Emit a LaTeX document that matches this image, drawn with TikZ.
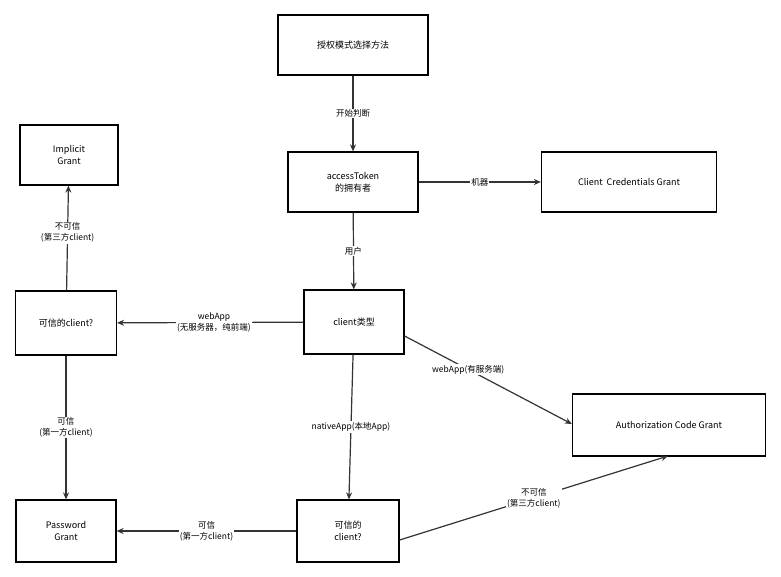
\documentclass[tikz,border=0pt]{standalone}
\usepackage{fontspec}
\setmainfont{Noto Sans CJK SC}
\usetikzlibrary{arrows.meta}
\definecolor{linegray}{HTML}{333333}

\begin{document}
\begin{tikzpicture}[x=1pt, y=-1pt,
    box/.style={draw=black, line width=1.2pt, fill=white, align=center,
      font=\fontsize{9}{12}\selectfont, inner sep=2pt},
    flow/.style={draw=linegray, line width=1.2pt, -{Stealth[length=7pt, width=6pt]}},
    lbl/.style={fill=white, align=center, font=\fontsize{8.5}{11}\selectfont, inner sep=1pt}]

      \useasboundingbox (0,0) rectangle (781,577);

      %% boxes
      \node[box, minimum width=150pt, minimum height=60pt] (choose) at (353,45) {授权模式选择方法};
      \node[box, minimum width=130pt, minimum height=60pt] (owner) at (353,182) {accessToken\\的拥有者};
      \node[box, minimum width=175pt, minimum height=60pt] (cred) at (629,182) {Client\ \ Credentials Grant};
      \node[box, minimum width=98pt, minimum height=60pt] (implicit) at (69,155) {Implicit\\Grant};
      \node[box, minimum width=101pt, minimum height=64pt] (trustweb) at (66,323) {可信的client?};
      \node[box, minimum width=100pt, minimum height=64pt] (ctype) at (354,322) {client类型};
      \node[box, minimum width=193pt, minimum height=62pt] (authcode) at (669,425) {Authorization Code Grant};
      \node[box, minimum width=100pt, minimum height=62pt] (password) at (66,531) {Password\\Grant};
      \node[box, minimum width=102pt, minimum height=62pt] (trustnative) at (348,531) {可信的\\client?};

      %% connectors
      \draw[flow] (choose) -- node[lbl] {开始判断} (owner);
      \draw[flow] (owner) -- node[lbl] {机器} (cred);
      \draw[flow] (owner) -- node[lbl] {用户} (ctype);
      \draw[flow] (ctype) -- node[lbl, pos=0.48] {webApp\\(无服务器，纯前端)} (trustweb);
      \draw[flow] (trustweb) -- node[lbl, pos=0.55] {不可信\\(第三方client)} (implicit);
      \draw[flow] (trustweb) -- node[lbl] {可信\\(第一方client)} (password);
      \draw[flow] (ctype.east |- 0,336) -- node[lbl, pos=0.38] {webApp(有服务端)} (authcode.west |- 0,424);
      \draw[flow] (ctype) -- node[lbl] {nativeApp(本地App)} (trustnative);
      \draw[flow] (trustnative) -- node[lbl] {可信\\(第一方client)} (password);
      \draw[flow] (trustnative.east |- 0,540) -- node[lbl, pos=0.5] {不可信\\(第三方client)} (668,456);

\end{tikzpicture}
\end{document}
